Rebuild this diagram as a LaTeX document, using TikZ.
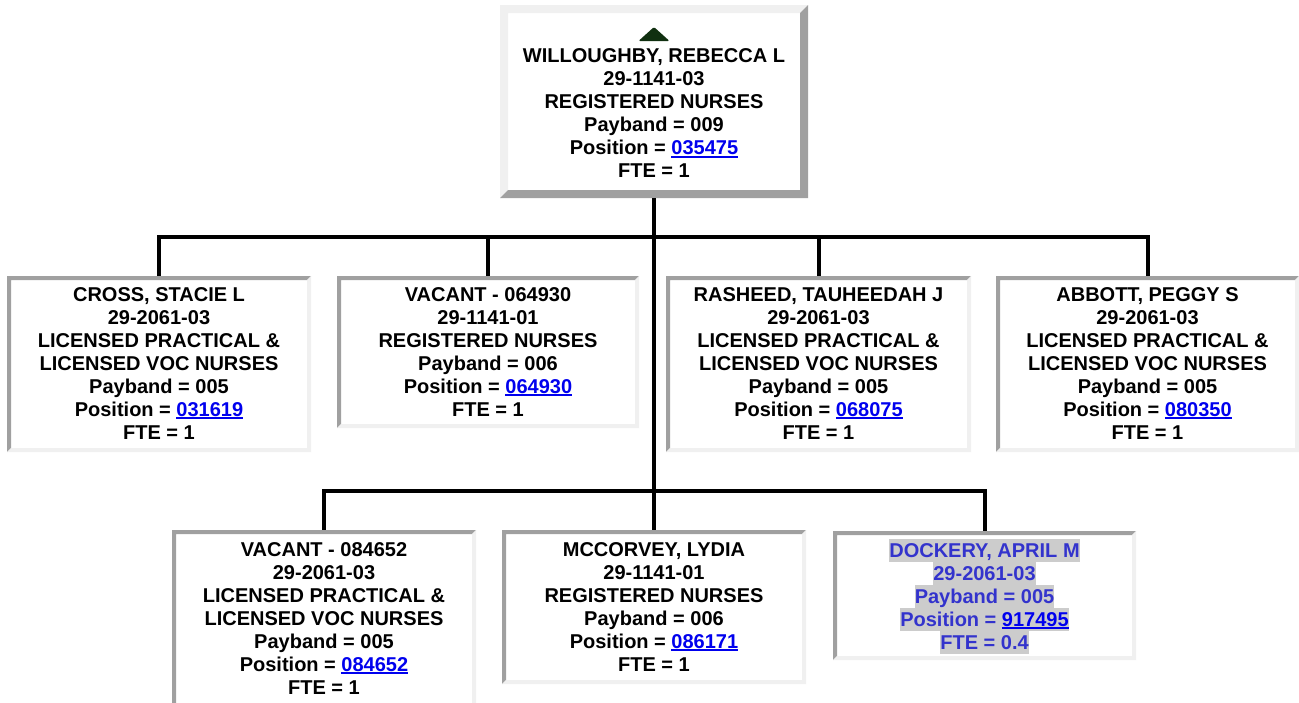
\documentclass[tikz,border=0pt]{standalone}
\usepackage{fontspec}
\setmainfont{Liberation Sans}
\usetikzlibrary{fit}
\definecolor{dk}{RGB}{160,160,160}
\definecolor{lt}{RGB}{240,240,240}
\definecolor{lnkc}{RGB}{0,0,238}
\definecolor{dockc}{RGB}{51,51,204}
\definecolor{hlc}{RGB}{204,204,204}
\definecolor{tric}{RGB}{16,48,16}
\newcommand\stru{\rule[-3.2pt]{0pt}{16.8pt}}
\newcommand\lnk[1]{\textcolor{lnkc}{\setbox0\hbox{#1}\rlap{\rule[-2.3pt]{\wd0}{1.5pt}}\box0}}
\newcommand\hlt[1]{{\fboxsep=0pt\colorbox{hlc}{\stru#1}}}
\newcommand\insetbox[5]{%
  \node[fit={(#2,#3) (#4,#5)}, inner sep=0pt, fill=white] (#1) {};
  \fill[dk] (#2,#3) -- (#4,#3) -- (#4-4,#3+4) -- (#2+4,#3+4) -- (#2+4,#5-4) -- (#2,#5) -- cycle;
  \fill[lt] (#4,#3) -- (#4,#5) -- (#2,#5) -- (#2+4,#5-4) -- (#4-4,#5-4) -- (#4-4,#3+4) -- cycle;
}
\newcommand\outsetbox[5]{%
  \node[fit={(#2,#3) (#4,#5)}, inner sep=0pt, fill=white] (#1) {};
  \fill[lt] (#2,#3) -- (#4,#3) -- (#4-8,#3+8) -- (#2+8,#3+8) -- (#2+8,#5-8) -- (#2,#5) -- cycle;
  \fill[dk] (#4,#3) -- (#4,#5) -- (#2,#5) -- (#2+8,#5-8) -- (#4-8,#5-8) -- (#4-8,#3+8) -- cycle;
}
\tikzset{
  txt/.style={anchor=north, align=center, inner sep=0pt,
    font=\fontsize{15pt}{17.25pt}\selectfont\bfseries,
    execute at begin node=\stru},
  conn/.style={draw=black, line width=3pt}
}
\begin{document}
\begin{tikzpicture}[x=0.75pt, y=-0.75pt]
\fill[white] (0,0) rectangle (1299,703);
\clip (0,0) rectangle (1299,703);

% boxes
\outsetbox{top}{500}{5}{808}{198}
\insetbox{cross}{7}{276}{311}{452}
\insetbox{vac1}{337}{276}{639}{428}
\insetbox{rash}{666}{276}{971}{452}
\insetbox{abb}{996}{276}{1299}{452}
\insetbox{vac2}{172}{530}{476}{712}
\insetbox{mcc}{502}{530}{806}{684}
\insetbox{dock}{833}{531}{1136}{660}

% connectors
\coordinate (j1) at (654,237);
\coordinate (j2) at (654,491);
\draw[conn] (top.south) -- (j2);
\draw[conn] (cross.north) |- (j1) -| (abb.north);
\draw[conn] (vac1.north) -- (vac1.north |- j1);
\draw[conn] (rash.north) -- (rash.north |- j1);
\draw[conn] (vac2.north) |- (j2) -| (dock.north);
\draw[conn] (mcc.north) -- (j2);

% triangle marker
\fill[tric, rounded corners=1pt] (654,27) -- (669.5,41) -- (638.5,41) -- cycle;

% texts
\node[txt] (ttop) at (654,48.5) {WILLOUGHBY, REBECCA L\\29-1141-03\\REGISTERED NURSES\\Payband = 009\\Position = \lnk{035475}\\FTE = 1};
\node[txt] (tcross) at (159,287) {CROSS, STACIE L\\29-2061-03\\LICENSED PRACTICAL \&\\LICENSED VOC NURSES\\Payband = 005\\Position = \lnk{031619}\\FTE = 1};
\node[txt] (tvac1) at (488,287) {VACANT - 064930\\29-1141-01\\REGISTERED NURSES\\Payband = 006\\Position = \lnk{064930}\\FTE = 1};
\node[txt] (trash) at (818.5,287) {RASHEED, TAUHEEDAH J\\29-2061-03\\LICENSED PRACTICAL \&\\LICENSED VOC NURSES\\Payband = 005\\Position = \lnk{068075}\\FTE = 1};
\node[txt] (tabb) at (1147.5,287) {ABBOTT, PEGGY S\\29-2061-03\\LICENSED PRACTICAL \&\\LICENSED VOC NURSES\\Payband = 005\\Position = \lnk{080350}\\FTE = 1};
\node[txt] (tvac2) at (324,542) {VACANT - 084652\\29-2061-03\\LICENSED PRACTICAL \&\\LICENSED VOC NURSES\\Payband = 005\\Position = \lnk{084652}\\FTE = 1};
\node[txt] (tmcc) at (654,542) {MCCORVEY, LYDIA\\29-1141-01\\REGISTERED NURSES\\Payband = 006\\Position = \lnk{086171}\\FTE = 1};
\node[txt, text=dockc, execute at begin node={}] (tdock) at (984.5,539) {\hlt{DOCKERY, APRIL M}\\\hlt{29-2061-03}\\\hlt{Payband = 005}\\\hlt{Position = \lnk{917495}}\\\hlt{FTE = 0.4}};
\end{tikzpicture}
\end{document}
